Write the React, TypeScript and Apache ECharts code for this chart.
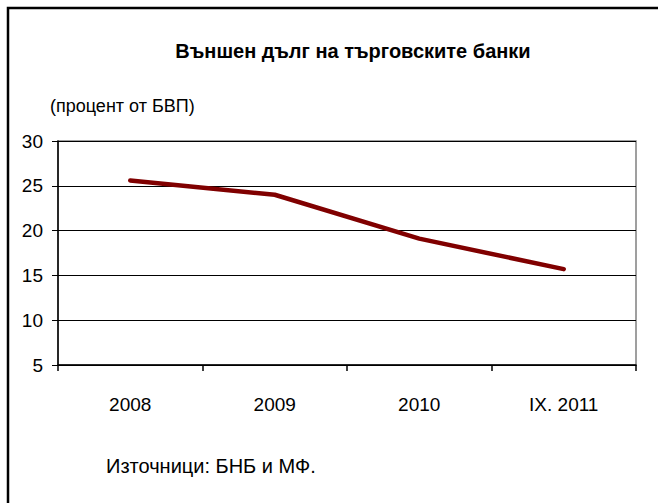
import React, { useEffect, useRef } from "react";
import * as echarts from "echarts";

const categories = ["2008", "2009", "2010", "IX. 2011"];
const debtValues = [25.6, 24.0, 19.1, 15.7];
const titleText = "Външен дълг на търговските банки";
const unitText = "(процент от БВП)";
const sourceText = "Източници: БНБ и МФ.";

const FONT = "'Liberation Sans', Arial, sans-serif";

export default function App() {
  const ref = useRef<HTMLDivElement>(null);
  useEffect(() => {
    if (!ref.current) return;
    const chart = echarts.init(ref.current, undefined, { renderer: "svg" });
    chart.setOption({
      animation: false,
      backgroundColor: "#ffffff",
      title: {
        text: titleText,
        left: 348,
        top: 36,
        textAlign: "center",
        textStyle: { fontFamily: FONT, fontSize: 20, fontWeight: "bold", color: "#000" },
      },
      grid: {
        left: 58,
        top: 141,
        right: 22,
        bottom: 138,
        show: true,
        borderColor: "#808080",
        borderWidth: 1.5,
        backgroundColor: "transparent",
      },
      xAxis: {
        type: "category",
        data: categories,
        boundaryGap: true,
        axisLine: { lineStyle: { color: "#000", width: 1.5 } },
        axisTick: { show: true, length: 6, interval: 0, lineStyle: { color: "#000", width: 1.5 } },
        axisLabel: { margin: 30, fontFamily: FONT, fontSize: 19, color: "#000", interval: 0 },
        splitLine: { show: false },
      },
      yAxis: {
        type: "value",
        min: 5,
        max: 30,
        interval: 5,
        axisLine: { show: true, lineStyle: { color: "#000", width: 1.5 } },
        axisTick: { show: true, length: 6, lineStyle: { color: "#000", width: 1 } },
        axisLabel: { margin: 15, fontFamily: FONT, fontSize: 19, color: "#000" },
        splitLine: { show: true, lineStyle: { color: "#000", width: 1 } },
      },
      series: [
        {
          type: "line",
          data: debtValues,
          symbol: "none",
          lineStyle: { color: "#800000", width: 4.5, cap: "round", join: "round" },
        },
      ],
      graphic: [
        {
          type: "rect",
          shape: { x: 8, y: 8, width: 800, height: 700 },
          style: { fill: "none", stroke: "#000", lineWidth: 2.5 },
          silent: true,
        },
        {
          type: "text",
          left: 50,
          top: 97,
          style: { text: unitText, font: `18px ${FONT}`, fill: "#000" },
        },
        {
          type: "text",
          left: 106,
          top: 456,
          style: { text: sourceText, font: `20px ${FONT}`, fill: "#000" },
        },
      ],
    });
    return () => chart.dispose();
  }, []);
  return (
    <div
      ref={ref}
      style={{ position: "fixed", left: 0, top: 0, width: 658, height: 503 }}
    />
  );
}
